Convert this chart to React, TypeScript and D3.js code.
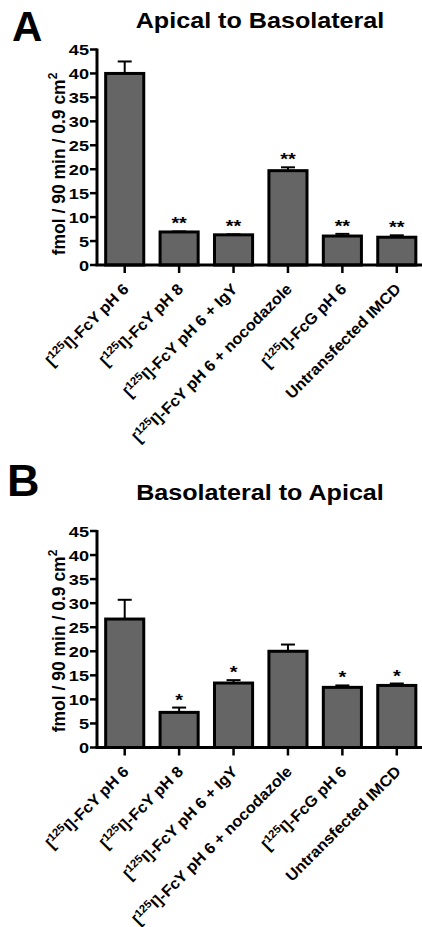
import React from "react";
import * as d3 from "d3";

const categories = [
  "FcY pH 6",
  "FcY pH 8",
  "FcY pH 6 + IgY",
  "FcY pH 6 + nocodazole",
  "FcG pH 6",
  "Untransfected IMCD",
];
const labelPrefixed = [true, true, true, true, true, false];

const valuesA = [40.0, 6.9, 6.3, 19.7, 6.05, 5.8];
const errorsA = [2.5, 0.1, 0.1, 0.7, 0.45, 0.4];
const starsA = ["", "**", "**", "**", "**", "**"];

const valuesB = [26.7, 7.3, 13.4, 20.0, 12.5, 12.9];
const errorsB = [4.0, 1.0, 0.6, 1.4, 0.4, 0.4];
const starsB = ["", "*", "*", "", "*", "*"];

const yTicks = [0, 5, 10, 15, 20, 25, 30, 35, 40, 45];

const FONT = "Arial, 'Liberation Sans', Helvetica, sans-serif";
const SX = 1.17;

type PanelProps = {
  letter: string;
  letterSize: number;
  letterY: number;
  letterX: number;
  title: string;
  titleY: number;
  top: number;
  bottom: number;
  labelCenter: number;
  values: number[];
  errors: number[];
  stars: string[];
};

function Panel(p: PanelProps) {
  const x = d3
    .scaleBand<string>()
    .domain(categories)
    .range([97.5, 424])
    .paddingInner(0.3)
    .paddingOuter(0.15);
  const y = d3.scaleLinear().domain([0, 45]).range([p.bottom, p.top]);
  const axisX = 97;
  const bw = x.bandwidth();
  return (
    <g fontFamily={FONT} fontWeight="bold">
      <text x={p.letterX} y={p.letterY} fontSize={p.letterSize}>
        {p.letter}
      </text>
      <text
        transform={`translate(260,${p.titleY}) scale(${SX},1)`}
        fontSize={21.5}
        textAnchor="middle"
      >
        {p.title}
      </text>
      {/* bars */}
      {categories.map((c, i) => {
        const x0 = x(c)!;
        const cx = x0 + bw / 2;
        const yv = y(p.values[i]);
        const ye = y(p.values[i] + p.errors[i]);
        return (
          <g key={c}>
            <line x1={cx} x2={cx} y1={yv} y2={ye} stroke="#000" strokeWidth={2} />
            <line x1={cx - 7} x2={cx + 7} y1={ye} y2={ye} stroke="#000" strokeWidth={2} />
            <rect
              x={x0}
              y={yv}
              width={bw}
              height={p.bottom - yv}
              fill="#656565"
              stroke="#000"
              strokeWidth={3}
            />
            {p.stars[i] && (
              <text
                transform={`translate(${cx},${ye - 2}) scale(${SX},1)`}
                fontSize={17}
                textAnchor="middle"
              >
                {p.stars[i]}
              </text>
            )}
          </g>
        );
      })}
      {/* y axis */}
      <line x1={axisX} x2={axisX} y1={p.top - 1} y2={p.bottom} stroke="#000" strokeWidth={3} />
      {yTicks.map((t) => (
        <g key={t}>
          <line x1={axisX - 7} x2={axisX} y1={y(t)} y2={y(t)} stroke="#000" strokeWidth={2.5} />
          <text
            transform={`translate(${axisX - 8},${y(t) + 5.5}) scale(${SX},1)`}
            fontSize={15.5}
            textAnchor="end"
          >
            {t}
          </text>
        </g>
      ))}
      <text
        transform={`translate(65,${p.labelCenter}) rotate(-90)`}
        fontSize={17.5}
        textAnchor="middle"
      >
        fmol / 90 min / 0.9 cm
        <tspan fontSize={12} dy={-8}>
          2
        </tspan>
      </text>
      {/* x axis */}
      <line x1={axisX - 1.5} x2={422} y1={p.bottom} y2={p.bottom} stroke="#000" strokeWidth={3} />
      {categories.map((c, i) => {
        const cx = x(c)! + bw / 2;
        return (
          <g key={"t" + c}>
            <line x1={cx} x2={cx} y1={p.bottom} y2={p.bottom + 8} stroke="#000" strokeWidth={2.5} />
            <text
              transform={`translate(${cx + 5},${p.bottom + 25}) rotate(-45) scale(1.05,1)`}
              fontSize={15.5}
              textAnchor="end"
            >
              {labelPrefixed[i] ? (
                <>
                  [<tspan fontSize={11} dy={-6}>125</tspan>
                  <tspan dy={6}>I]-{c}</tspan>
                </>
              ) : (
                c
              )}
            </text>
          </g>
        );
      })}
    </g>
  );
}

export default function App() {
  return (
    <svg
      width={422}
      height={927}
      style={{ position: "absolute", left: 0, top: 0, background: "#fff" }}
    >
      <rect width={422} height={927} fill="#fff" />
      <Panel
        letter="A"
        letterSize={42}
        letterX={12}
        letterY={41}
        title="Apical to Basolateral"
        titleY={27.5}
        top={49.5}
        bottom={265}
        labelCenter={164}
        values={valuesA}
        errors={errorsA}
        stars={starsA}
      />
      <Panel
        letter="B"
        letterSize={45}
        letterX={7}
        letterY={496}
        title="Basolateral to Apical"
        titleY={500}
        top={531}
        bottom={747.5}
        labelCenter={641}
        values={valuesB}
        errors={errorsB}
        stars={starsB}
      />
    </svg>
  );
}
